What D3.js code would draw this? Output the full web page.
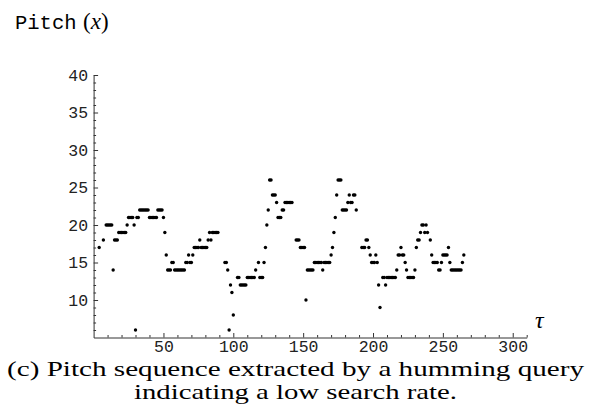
<!DOCTYPE html>
<html>
<head>
<meta charset="utf-8">
<script src="https://cdn.jsdelivr.net/npm/d3@7"></script>
<style>
  html, body { margin: 0; padding: 0; background: #fff; }
  svg { display: block; }
  .mono { font-family: "Liberation Mono", "Cousine", "Courier New", monospace; }
  .serif { font-family: "Liberation Serif", "Tinos", "Times New Roman", serif; }
</style>
</head>
<body>
<svg id="chart" width="589" height="411"></svg>
<script>
// pitch value for tau = 1, 2, 3, ... (null = no point)
const pitch = [
  null,null,null,17,null,null,18,null,20,20,
  20,20,20,14,18,18,18,19,19,19,
  19,19,19,20,21,21,21,21,20,6,
  21,21,22,22,22,22,22,22,22,21,
  21,21,21,21,21,22,22,22,22,21,
  19,16,14,14,14,15,15,14,14,14,
  14,14,14,14,14,15,15,16,15,15,
  16,17,17,17,17,18,17,17,17,17,
  17,18,19,18,19,19,19,19,19,null,
  null,null,null,15,15,14,6,12,11,8,
  null,null,13,13,12,12,12,12,12,13,
  13,13,13,13,13,14,null,15,13,13,
  13,15,17,20,22,26,26,24,24,24,
  23,21,21,21,22,22,23,23,23,23,
  23,23,null,null,18,18,18,17,17,17,
  17,10,14,14,14,14,14,15,15,15,
  15,15,15,14,15,15,15,15,15,16,
  17,19,21,24,26,26,26,22,22,22,
  22,23,24,23,23,24,24,22,null,null,
  null,17,17,17,18,18,17,16,15,15,
  15,16,15,12,9,null,13,13,12,13,
  13,13,13,13,13,13,14,16,16,17,
  16,16,15,14,13,13,13,13,13,14,
  17,18,18,19,20,20,19,20,19,null,
  18,16,15,15,15,15,14,14,15,16,
  16,16,16,17,15,14,14,14,14,14,
  14,14,14,15,16
];
const xMajorTicks = [50, 100, 150, 200, 250, 300];
const yMajorTicks = [10, 15, 20, 25, 30, 35, 40];
const xDomain = [0, 310];
const yDomain = [5, 40];
const titleMono = "Pitch";
const captionLines = ["(c) Pitch sequence extracted by a humming query",
                      "indicating a low search rate."];

const svg = d3.select("#chart");
const x = d3.scaleLinear().domain(xDomain).range([93.6, 526.7]);
const y = d3.scaleLinear().domain(yDomain).range([337.5, 75]);

const axisColor = "#333";

// minor ticks
const xMinor = d3.range(10, 311, 10).filter(v => !xMajorTicks.includes(v));
const yMinor = d3.range(6, 40, 1).filter(v => !yMajorTicks.includes(v));

const gxMinor = svg.append("g").attr("transform", `translate(0,${y(5)})`)
  .call(d3.axisBottom(x).tickValues(xMinor).tickSize(-2.5).tickFormat(""));
gxMinor.select(".domain").remove();
const gyMinor = svg.append("g").attr("transform", `translate(${x(0)},0)`)
  .call(d3.axisLeft(y).tickValues(yMinor).tickSize(-2.5).tickFormat(""));
gyMinor.select(".domain").remove();

const gx = svg.append("g").attr("transform", `translate(0,${y(5)})`)
  .call(d3.axisBottom(x).tickValues(xMajorTicks).tickSize(-4.5).tickSizeOuter(0).tickPadding(2.5));
const gy = svg.append("g").attr("transform", `translate(${x(0)},0)`)
  .call(d3.axisLeft(y).tickValues(yMajorTicks).tickSize(-4.5).tickSizeOuter(0).tickPadding(5.5));

svg.selectAll(".tick line, .domain").attr("stroke", axisColor).attr("stroke-width", 1);
[gx, gy].forEach(g => {
  g.attr("font-family", null).attr("font-size", null);
  g.selectAll("text").attr("class", "mono").style("font-size", "16.5px").attr("fill", "#222");
});

// points
const pts = pitch.map((v, i) => ({t: i + 1, v})).filter(d => d.v !== null);
svg.append("g").selectAll("circle").data(pts).join("circle")
  .attr("cx", d => x(d.t)).attr("cy", d => y(d.v)).attr("r", 1.7).attr("fill", "#000");

// axis labels
const title = svg.append("text").attr("x", 15).attr("y", 29).attr("fill", "#000");
title.append("tspan").attr("class", "mono").style("font-size", "20.5px").text(titleMono);
title.append("tspan").attr("x", 83).attr("class", "serif").style("font-size", "23px").text("(");
title.append("tspan").attr("class", "serif").style("font-style", "italic").style("font-size", "23px").text("x");
title.append("tspan").attr("class", "serif").style("font-size", "23px").text(")");

svg.append("text").attr("x", 535).attr("y", 328)
  .attr("class", "serif").style("font-style", "italic").style("font-size", "24px")
  .attr("fill", "#000").text("τ");

// caption
const capWidths = [577, 323];
const capBase = [375.5, 399];
captionLines.forEach((line, i) => {
  svg.append("text").attr("x", 295.5).attr("y", capBase[i])
    .attr("text-anchor", "middle")
    .attr("class", "serif").style("font-size", "22px").attr("fill", "#000")
    .attr("textLength", capWidths[i]).attr("lengthAdjust", "spacingAndGlyphs")
    .text(line);
});
</script>
</body>
</html>
